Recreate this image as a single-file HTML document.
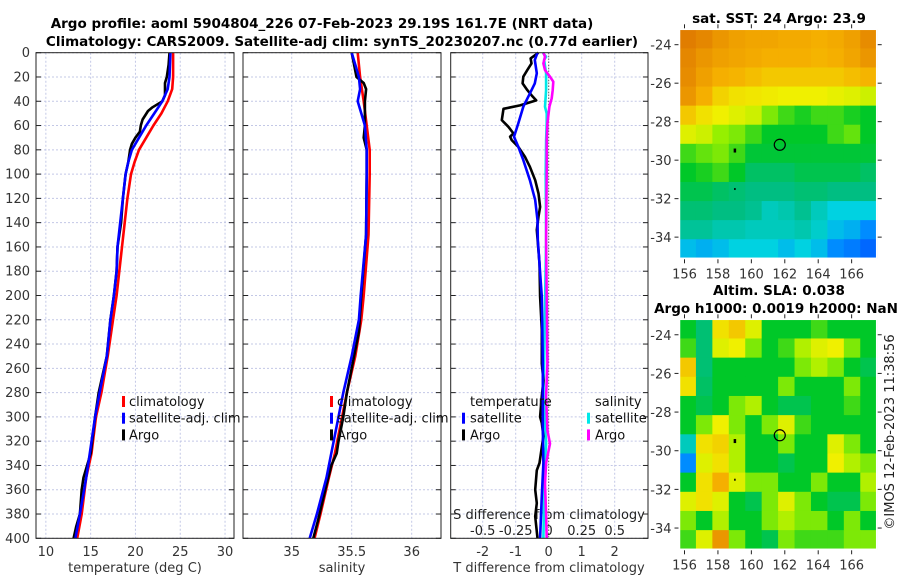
<!DOCTYPE html>
<html><head><meta charset="utf-8">
<style>
html,body{margin:0;padding:0;background:#fff;}
svg{display:block;font-family:"DejaVu Sans","Liberation Sans",sans-serif;}
</style></head>
<body>
<svg id="fig" width="900" height="580" viewBox="0 0 900 580">
<text x="322" y="28" text-anchor="middle" font-weight="bold" font-size="13.5">Argo profile: aoml 5904804_226 07-Feb-2023 29.19S 161.7E (NRT data)</text>
<text x="342" y="46" text-anchor="middle" font-weight="bold" font-size="13.5">Climatology: CARS2009. Satellite-adj clim: synTS_20230207.nc (0.77d earlier)</text>
<text x="779" y="23" text-anchor="middle" font-weight="bold" font-size="13.5">sat. SST: 24 Argo: 23.9</text>
<text x="779" y="295" text-anchor="middle" font-weight="bold" font-size="13.5">Altim. SLA: 0.038</text>
<text x="776" y="313" text-anchor="middle" font-weight="bold" font-size="13.5">Argo h1000: 0.0019 h2000: NaN</text>
<text transform="translate(894,432) rotate(-90)" text-anchor="middle" font-size="13" fill="#222">©IMOS 12-Feb-2023 11:38:56</text>
<g id="g"></g>
</svg>
<script>
// ---------- data ----------
const depthTick = [0,20,40,60,80,100,120,140,160,180,200,220,240,260,280,300,320,340,360,380,400];
const tempTicks = [10,15,20,25,30];
const salTicks = [35,35.5,36];
const salTickLabels = ["35","35.5","36"];
const tdiffTicks = [-2,-1,0,1,2];
const sdiffTicks = [-0.5,-0.25,0,0.25,0.5];
const sdiffTickLabels = ["-0.5","-0.25","0","0.25","0.5"];

const climDepth = [0,20,30,40,50,60,70,80,90,100,120,140,160,180,200,220,250,280,300,330,350,380,400];
const climTemp  = [24.2,24.2,24.1,23.6,22.9,22.0,21.2,20.4,19.9,19.5,19.1,18.8,18.5,18.2,17.9,17.5,16.9,16.2,15.6,15.1,14.5,14.0,13.5];
const satTemp   = [23.9,23.8,23.6,23.0,22.1,21.2,20.4,19.6,19.2,18.9,18.6,18.3,18.0,17.9,17.6,17.2,16.8,16.0,15.5,14.9,14.5,13.8,13.3];
const argoTDepth = [0,10,20,25,30,35,40,45,48,55,60,65,70,75,80,90,100,120,140,160,180,200,220,250,280,300,330,340,350,360,380,390,400];
const argoTemp   = [23.8,23.7,23.5,23.3,23.3,23.3,23.0,21.9,21.4,20.8,20.6,20.5,20.0,19.6,19.4,19.2,18.9,18.6,18.4,18.0,17.9,17.6,17.2,16.8,15.9,15.5,15.0,14.6,14.2,14.0,13.8,13.4,13.1];

const salDepth = [0,20,40,60,80,100,150,200,220,250,280,300,330,350,380,400];
const climSal  = [35.55,35.57,35.60,35.625,35.65,35.65,35.64,35.60,35.58,35.53,35.46,35.42,35.36,35.31,35.24,35.19];
const satSalDepth = [0,10,20,30,40,50,60,80,100,150,200,220,250,280,300,330,350,380,400];
const satSal   = [35.50,35.53,35.56,35.57,35.55,35.58,35.61,35.625,35.625,35.62,35.575,35.56,35.50,35.43,35.39,35.33,35.29,35.21,35.15];
const argoSDepth = [0,10,20,25,30,40,50,60,70,80,100,150,200,230,260,280,300,320,330,340,360,385,400];
const argoSal  = [35.50,35.52,35.54,35.60,35.62,35.61,35.61,35.61,35.60,35.625,35.625,35.62,35.58,35.56,35.50,35.46,35.43,35.39,35.375,35.33,35.28,35.22,35.18];

const dTArgoDepth = [0,4.7,8.8,14.3,19.8,25.3,30.8,35,39.3,43.4,46.2,50,55.5,61,66.5,69.2,72,77.5,85.7,94,105,116,127,135,146,173.5,201,228,256,270,283,300,305,316,338,344,360,371,382,400];
const dTArgo = [-0.31,-0.55,-0.52,-0.65,-0.77,-0.79,-0.65,-0.52,-0.38,-0.87,-1.37,-1.39,-1.42,-1.22,-1.07,-1.17,-1.12,-0.92,-0.72,-0.57,-0.41,-0.31,-0.26,-0.31,-0.36,-0.28,-0.26,-0.21,-0.21,-0.16,-0.21,-0.26,-0.21,-0.16,-0.28,-0.36,-0.41,-0.36,-0.41,-0.34];
const dTSatDepth = [0,6,17,25.3,33.5,44.5,58.2,69.2,77.5,88.5,105,121.4,137.9,154,201,256,310,338,365,400];
const dTSat = [-0.34,-0.42,-0.36,-0.42,-0.57,-0.77,-0.92,-1.05,-0.92,-0.77,-0.57,-0.41,-0.34,-0.33,-0.21,-0.18,-0.18,-0.16,-0.21,-0.26];
const dSSatDepth = [0,3.3,6,17,30.8,44.5,50,58.2,72,99.5,154,256,283,322,338,365,400];
const dSSat = [-0.045,-0.02,-0.035,-0.02,-0.02,-0.028,-0.015,-0.015,-0.02,-0.023,-0.02,-0.035,-0.04,-0.02,-0.028,-0.035,-0.04];
const dSArgoDepth = [0,3.3,8.8,14.3,19.8,23.9,30.8,37.6,44.5,58.2,72,99.5,154,256,283,311,322,338,355,380,400];
const dSArgo = [-0.04,-0.028,-0.04,-0.028,0.01,0.035,0.03,0.023,0.005,-0.01,-0.015,-0.015,-0.02,-0.01,-0.02,-0.01,0.01,-0.02,-0.028,-0.02,-0.015];

const lonTicks = [156,158,160,162,164,166];
const latTicks = [-24,-26,-28,-30,-32,-34];
const argoLon = 161.7, argoLat = -29.2;
const sstGrid = [
[0.95,0.93,0.9,0.88,0.87,0.87,0.86,0.86,0.85,0.86,0.88,0.92],
[0.93,0.9,0.88,0.87,0.86,0.85,0.85,0.85,0.84,0.85,0.87,0.9],
[0.92,0.88,0.85,0.84,0.82,0.8,0.8,0.8,0.8,0.8,0.82,0.84],
[0.9,0.85,0.78,0.75,0.74,0.73,0.72,0.72,0.72,0.71,0.7,0.68],
[0.8,0.75,0.72,0.7,0.68,0.6,0.55,0.52,0.55,0.55,0.52,0.5],
[0.7,0.68,0.62,0.6,0.55,0.5,0.5,0.5,0.5,0.55,0.58,0.5],
[0.55,0.58,0.6,0.55,0.48,0.48,0.48,0.48,0.48,0.48,0.48,0.48],
[0.5,0.52,0.55,0.5,0.42,0.42,0.42,0.45,0.45,0.45,0.45,0.42],
[0.45,0.45,0.42,0.4,0.38,0.38,0.38,0.4,0.4,0.38,0.38,0.38],
[0.4,0.4,0.38,0.38,0.36,0.3,0.32,0.36,0.3,0.25,0.25,0.25],
[0.35,0.35,0.32,0.32,0.3,0.3,0.3,0.32,0.28,0.22,0.2,0.15],
[0.22,0.2,0.22,0.25,0.25,0.25,0.22,0.25,0.22,0.15,0.12,0.08]];
const slaGrid = [
[0.5,0.4,0.75,0.8,0.7,0.5,0.5,0.5,0.55,0.5,0.5,0.5],
[0.55,0.4,0.7,0.72,0.6,0.5,0.55,0.65,0.7,0.72,0.6,0.5],
[0.8,0.4,0.5,0.5,0.5,0.5,0.5,0.6,0.65,0.6,0.5,0.45],
[0.75,0.42,0.5,0.5,0.5,0.5,0.6,0.5,0.5,0.5,0.6,0.5],
[0.5,0.45,0.5,0.6,0.65,0.5,0.45,0.45,0.5,0.5,0.55,0.5],
[0.5,0.6,0.72,0.6,0.5,0.6,0.7,0.55,0.5,0.5,0.5,0.5],
[0.3,0.75,0.78,0.65,0.5,0.5,0.6,0.5,0.5,0.7,0.6,0.5],
[0.15,0.7,0.75,0.65,0.5,0.5,0.45,0.5,0.5,0.72,0.65,0.6],
[0.5,0.75,0.85,0.7,0.6,0.6,0.5,0.5,0.6,0.5,0.5,0.65],
[0.7,0.75,0.7,0.5,0.45,0.6,0.7,0.6,0.5,0.45,0.45,0.6],
[0.6,0.5,0.65,0.5,0.5,0.6,0.65,0.6,0.6,0.5,0.6,0.5],
[0.55,0.7,0.9,0.6,0.5,0.45,0.6,0.55,0.55,0.55,0.6,0.6]];

// ---------- drawing ----------
const NS="http://www.w3.org/2000/svg";
const root=document.getElementById('g');
function mk(tag,attrs,parent){const e=document.createElementNS(NS,tag);for(const k in attrs)e.setAttribute(k,attrs[k]);(parent||root).appendChild(e);return e;}
const Y0=52.7,Y1=538.3;
const yScale=d=>Y0+(d/400)*(Y1-Y0);
function lin(d0,d1,r0,r1){return v=>r0+(v-d0)/(d1-d0)*(r1-r0);}

const panels=[
 {x0:36,x1:234,name:'temperature-panel'},
 {x0:243,x1:441,name:'salinity-panel'},
 {x0:450.7,x1:648,name:'difference-panel'}];
const xT=lin(8.9,31,36,234);
const xS=lin(35,36,291.7,411.7);
const xDT=lin(-3,3,449.7,647.7);
const xDS=lin(-0.75,0.75,449.7,647.7);

function gridV(xs,fn){xs.forEach(v=>{const l=mk('line',{x1:fn(v),x2:fn(v),y1:Y0,y2:Y1,stroke:'#c3c8e6','stroke-width':1,'stroke-dasharray':'2,2'});
});}
panels.forEach((p,i)=>{
  const g=mk('g',{});
  
  depthTick.forEach(d=>{const l=mk('line',{x1:p.x0,x2:p.x1,y1:yScale(d),y2:yScale(d),stroke:'#c3c8e6','stroke-width':1,'stroke-dasharray':'2,2'},g);
    
    mk('line',{x1:p.x0,x2:p.x0+5,y1:yScale(d),y2:yScale(d),stroke:'#222'},g);
    mk('line',{x1:p.x1,x2:p.x1-5,y1:yScale(d),y2:yScale(d),stroke:'#222'},g);});
});
gridV(tempTicks,xT);gridV(salTicks,xS);gridV(tdiffTicks,xDT);
const zl=mk('line',{x1:xDT(0),x2:xDT(0),y1:Y0,y2:Y1,stroke:'#333','stroke-width':1,'stroke-dasharray':'1,2'});


depthTick.forEach(d=>{const t=mk('text',{x:30,y:yScale(d)+4.5,'text-anchor':'end','font-size':13,fill:'#333'});t.textContent=d;
 });
tempTicks.forEach(v=>{const t=mk('text',{x:xT(v),y:556,'text-anchor':'middle','font-size':13,fill:'#333'});t.textContent=v;
 });
salTicks.forEach((v,i)=>{const t=mk('text',{x:xS(v),y:556,'text-anchor':'middle','font-size':13,fill:'#333'});t.textContent=salTickLabels[i];
 });
tdiffTicks.forEach(v=>{const t=mk('text',{x:xDT(v),y:556,'text-anchor':'middle','font-size':13,fill:'#333'});t.textContent=v;
 });
sdiffTicks.forEach((v,i)=>{const t=mk('text',{x:xDS(v),y:535,'text-anchor':'middle','font-size':13,fill:'#222'});t.textContent=sdiffTickLabels[i];
 });
[[135,'temperature (deg C)','x-axis-title-temperature'],[342,'salinity','x-axis-title-salinity'],[549,'T difference from climatology','x-axis-title-tdiff']].forEach(a=>{
 const t=mk('text',{x:a[0],y:572,'text-anchor':'middle','font-size':13,fill:'#333'});t.textContent=a[1];
 });
const sdt=mk('text',{x:549,y:519,'text-anchor':'middle','font-size':13,fill:'#222'});sdt.textContent='S difference from climatology';


function line(xs,ds,fx,color,name){
  const pts=xs.map((v,i)=>fx(v).toFixed(1)+','+yScale(ds[i]).toFixed(1)).join(' ');
  const pl=mk('polyline',{points:pts,fill:'none',stroke:color,'stroke-width':2.6,'stroke-linejoin':'round'});
  }
line(climTemp,climDepth,xT,'#ff0000','climatology-temperature-line');
line(argoTemp,argoTDepth,xT,'#000','argo-temperature-line');
line(satTemp,climDepth,xT,'#0000ff','satellite-temperature-line');
line(climSal,salDepth,xS,'#ff0000','climatology-salinity-line');
line(argoSal,argoSDepth,xS,'#000','argo-salinity-line');
line(satSal,satSalDepth,xS,'#0000ff','satellite-salinity-line');
line(dSSat,dSSatDepth,xDS,'#00e8e8','satellite-sdiff-line');
line(dSArgo,dSArgoDepth,xDS,'#ff00ff','argo-sdiff-line');
line(dTArgo,dTArgoDepth,xDT,'#000','argo-tdiff-line');
line(dTSat,dTSatDepth,xDT,'#0000ff','satellite-tdiff-line');

panels.forEach(p=>{const r=mk('rect',{x:p.x0,y:Y0,width:p.x1-p.x0,height:Y1-Y0,fill:'none',stroke:'#222','stroke-width':1});
 });

function legend(x,y,entries,gname){
  const g=mk('g',{});
  entries.forEach((e,i)=>{const yy=y+i*16.7;
    if(e[0]){const m=mk('rect',{x:x,y:yy-10,width:3,height:11,fill:e[0]},g);
      }
    const t=mk('text',{x:x+e[2],y:yy,'font-size':13,fill:'#111'},g);t.textContent=e[1];
    });}
legend(122,406,[['#ff0000','climatology',7],['#0000ff','satellite-adj. clim',7],['#000','Argo',7]],'temperature-legend');
legend(330,406,[['#ff0000','climatology',7],['#0000ff','satellite-adj. clim',7],['#000','Argo',7]],'salinity-legend');
legend(462,406,[[null,'temperature',8],['#0000ff','satellite',8],['#000','Argo',8]],'tdiff-legend');
legend(587,406,[[null,'salinity',8],['#00e8e8','satellite',8],['#ff00ff','Argo',8]],'sdiff-legend');

// ---------- maps ----------
const stops=[[0,[0,60,255]],[0.15,[0,140,255]],[0.25,[0,210,225]],[0.38,[0,190,130]],[0.5,[0,200,40]],[0.62,[150,240,0]],[0.72,[240,240,0]],[0.85,[245,175,0]],[1,[215,100,0]]];
function cmap(v){for(let i=1;i<stops.length;i++){if(v<=stops[i][0]){const a=stops[i-1],b=stops[i],t=(v-a[0])/(b[0]-a[0]);
 return 'rgb('+a[1].map((c,k)=>Math.round(c+(b[1][k]-c)*t)).join(',')+')';}}return 'rgb(215,100,0)';}
function drawMap(grid,y0,y1,name){
  const x0=679.5,x1=876.7;
  const lonS=lin(155.7,167.5,x0,x1), latS=lin(-23.2,-35.1,y0,y1);
  const g=mk('g',{});
  const rows=grid.length,cols=grid[0].length,cw=(x1-x0)/cols,ch=(y1-y0)/rows;
  grid.forEach((row,r)=>row.forEach((v,c)=>{const cell=mk('rect',{x:x0+c*cw,y:y0+r*ch,width:cw+0.6,height:ch+0.6,fill:cmap(v)},g);
    }));
  const fr=mk('rect',{x:x0,y:y0,width:x1-x0,height:y1-y0,fill:'none',stroke:'#fff','stroke-width':1.5},g);
  
  lonTicks.forEach(v=>{mk('line',{x1:lonS(v),x2:lonS(v),y1:y1+1,y2:y1+5,stroke:'#222'},g);mk('line',{x1:lonS(v),x2:lonS(v),y1:y0-1,y2:y0-5,stroke:'#222'},g);
    const t=mk('text',{x:lonS(v),y:y1+20,'text-anchor':'middle','font-size':13,fill:'#333'},g);t.textContent=v;
    });
  latTicks.forEach(v=>{mk('line',{x1:x0-1,x2:x0-5,y1:latS(v),y2:latS(v),stroke:'#222'},g);mk('line',{x1:x1+1,x2:x1+5,y1:latS(v),y2:latS(v),stroke:'#222'},g);
    const t=mk('text',{x:x0-8,y:latS(v)+5,'text-anchor':'end','font-size':13,fill:'#333'},g);t.textContent=v;
    });
  const c=mk('circle',{cx:lonS(argoLon),cy:latS(argoLat),r:5.5,fill:'none',stroke:'#000','stroke-width':1.2},g);
  
  const isl=mk('rect',{x:lonS(159)-1,y:latS(-29.5)-2,width:2.5,height:4,fill:'#000'},g);
  
  const isl2=mk('rect',{x:lonS(159)-0.5,y:latS(-31.5)-1,width:1.5,height:2,fill:'#000'},g);
  
}
drawMap(sstGrid,29.3,258.3,'sst-map');
drawMap(slaGrid,319.3,549.3,'sla-map');
</script>
</body></html>
